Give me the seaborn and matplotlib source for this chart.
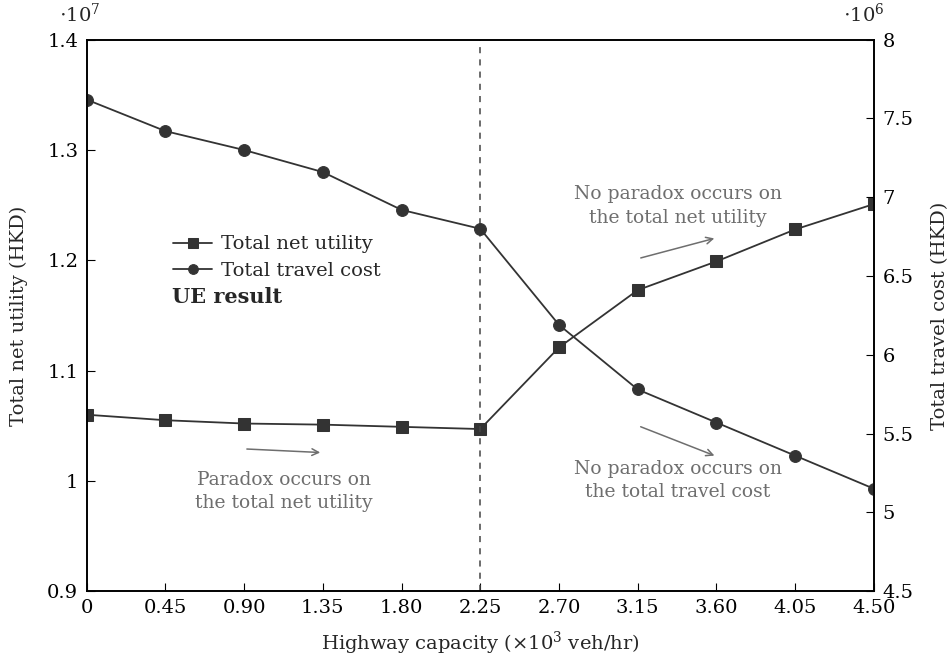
import matplotlib
matplotlib.use("Agg")
import matplotlib.pyplot as plt
import seaborn as sns
import pandas as pd

# Highway capacity (x10^3 veh/hr)
capacity = [0, 0.45, 0.90, 1.35, 1.80, 2.25, 2.70, 3.15, 3.60, 4.05, 4.50]
capacity_labels = ["0", "0.45", "0.90", "1.35", "1.80", "2.25", "2.70", "3.15", "3.60", "4.05", "4.50"]
# Total net utility (x10^7 HKD)
net_utility = [1.060, 1.055, 1.052, 1.051, 1.049, 1.047, 1.121, 1.173, 1.199, 1.228, 1.251]
# Total travel cost (x10^6 HKD)
travel_cost = [7.62, 7.42, 7.30, 7.16, 6.92, 6.80, 6.19, 5.78, 5.57, 5.36, 5.15]

left_ticks = [0.9, 1.0, 1.1, 1.2, 1.3, 1.4]
left_labels = ["0.9", "1", "1.1", "1.2", "1.3", "1.4"]
right_ticks = [4.5, 5.0, 5.5, 6.0, 6.5, 7.0, 7.5, 8.0]
right_labels = ["4.5", "5", "5.5", "6", "6.5", "7", "7.5", "8"]

sns.set_theme(style="white")
plt.rcParams["font.family"] = ["DejaVu Serif"]
plt.rcParams["mathtext.fontset"] = "dejavuserif"

df = pd.DataFrame({"cap": capacity, "util": net_utility, "cost": travel_cost})

line_c = "#333333"
note_c = "#6e6e6e"
fs = 14

fig = plt.figure(figsize=(9.52, 6.62), dpi=100)
ax = fig.add_axes([0.091, 0.107, 0.827, 0.833])
ax2 = ax.twinx()

sns.lineplot(data=df, x="cap", y="util", ax=ax, color=line_c, marker="s",
             markersize=8.5, linewidth=1.3, markeredgecolor=line_c,
             label="Total net utility", legend=False)
sns.lineplot(data=df, x="cap", y="cost", ax=ax2, color=line_c, marker="o",
             markersize=8.5, linewidth=1.3, markeredgecolor=line_c,
             label="Total travel cost", legend=False)

ax.axvline(2.25, color="#444444", linestyle=(0, (4, 4)), linewidth=1.1)

ax.set_xlim(0, 4.5)
ax.set_ylim(0.9, 1.4)
ax2.set_ylim(4.5, 8.0)

ax.set_xticks(capacity)
ax.set_xticklabels(capacity_labels, fontsize=fs)
ax.set_yticks(left_ticks)
ax.set_yticklabels(left_labels, fontsize=fs)
ax2.set_yticks(right_ticks)
ax2.set_yticklabels(right_labels, fontsize=fs)

ax.tick_params(axis="x", direction="in", length=6, width=0.8, colors="black", pad=6, bottom=True)
ax.tick_params(axis="y", direction="in", length=6, width=0.8, colors="black", pad=6, left=True)
ax2.tick_params(axis="y", direction="in", length=6, width=0.8, colors="black", pad=6, right=True)

for a in (ax, ax2):
    for s in a.spines.values():
        s.set_color("black")
        s.set_linewidth(1.2)
    a.grid(False)

ax.set_xlabel(r"Highway capacity ($\times 10^3$ veh/hr)", fontsize=fs, labelpad=9)
ax.set_ylabel("Total net utility (HKD)", fontsize=fs, labelpad=14)
ax2.set_ylabel("Total travel cost (HKD)", fontsize=fs, labelpad=13)

# Axis scale factors
fig.text(0.084, 0.978, r"$\cdot 10^7$", fontsize=fs, ha="center", va="center")
fig.text(0.907, 0.978, r"$\cdot 10^6$", fontsize=fs, ha="center", va="center")

# Legend
h1, l1 = ax.get_legend_handles_labels()
h2, l2 = ax2.get_legend_handles_labels()
leg = ax.legend(h1 + h2, l1 + l2, loc="upper left", bbox_to_anchor=(0.110, 0.645),
                frameon=False, fontsize=fs, handlelength=2.0, handletextpad=0.45,
                labelspacing=0.45, borderaxespad=0, borderpad=0)
for h in leg.legend_handles:
    h.set_markersize(7)

ax.text(0.488, 1.167, "UE result", fontsize=15, fontweight="bold", ha="left", va="center")

# Annotations
ax.text(3.38, 1.249, "No paradox occurs on\nthe total net utility", color=note_c,
        fontsize=13.5, ha="center", va="center", linespacing=1.4)
ax.annotate("", xy=(3.603, 1.2205), xytext=(3.152, 1.2015),
            arrowprops=dict(arrowstyle="->", color=note_c, lw=1.1))

ax.text(3.38, 1.0005, "No paradox occurs on\nthe total travel cost", color=note_c,
        fontsize=13.5, ha="center", va="center", linespacing=1.4)
ax.annotate("", xy=(3.603, 1.022), xytext=(3.152, 1.050),
            arrowprops=dict(arrowstyle="->", color=note_c, lw=1.1))

ax.text(1.128, 0.9905, "Paradox occurs on\nthe total net utility", color=note_c,
        fontsize=13.5, ha="center", va="center", linespacing=1.4)
ax.annotate("", xy=(1.351, 1.0256), xytext=(0.90, 1.029),
            arrowprops=dict(arrowstyle="->", color=note_c, lw=1.1))

fig.savefig("out.png", dpi=100)
